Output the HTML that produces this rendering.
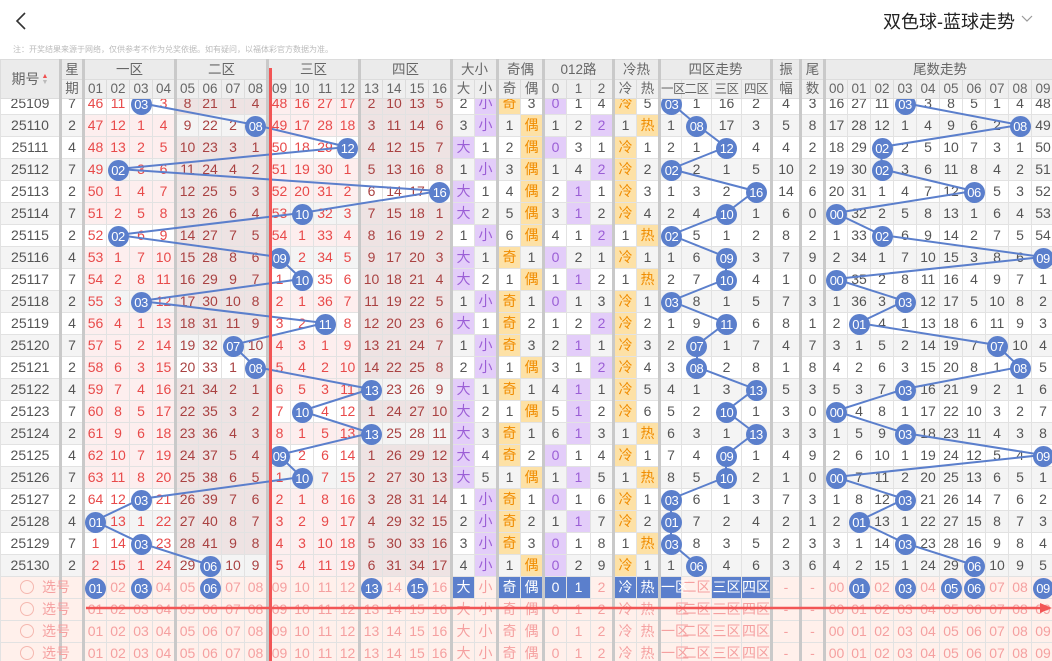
<!DOCTYPE html>
<html><head><meta charset="utf-8">
<style>
body{margin:0;width:1052px;height:661px;overflow:hidden;background:#fff;font-family:"Liberation Sans","Noto Sans CJK SC",sans-serif;position:relative}
.top{position:absolute;left:0;top:0;width:1052px;height:59px;background:#fff}
.title{position:absolute;left:883px;top:8px;font-size:18px;color:#222;white-space:nowrap}
.chev{position:absolute;left:1020px;top:14px}
.note{position:absolute;left:13px;top:44px;font-size:8px;color:#bbb;white-space:nowrap}
table{border-collapse:collapse;table-layout:fixed;width:1054px}
td{padding:0;text-align:center;border:1px solid #e2e2e2;font-size:14px;color:#555;white-space:nowrap;overflow:visible;line-height:19px}
.hd{position:absolute;left:0;top:59px;z-index:3;background:#ebebeb}
.hd td{background:#ebebeb;color:#666;font-size:13.5px;border-color:#dcdcdc;line-height:18px}
.hd td.sm{font-size:12.5px;letter-spacing:-0.5px}
.hd tr.r1 td{height:19px}
.hd tr.r2 td{height:18px;background:#efefef}
.hd td.L{border-left:3px solid #c9c9c9}
.bd{position:absolute;left:0;top:92px;width:1052px;height:569px;overflow:hidden}
.bd tr{height:22px}
.bd td{height:20px;background:#fff}
.bd tr:nth-child(even) td{background:#f4f4f4}
.bd td:nth-child(2),.bd td:nth-child(3),.bd td:nth-child(7),.bd td:nth-child(11),.bd td:nth-child(15),.bd td:nth-child(19),.bd td:nth-child(21),.bd td:nth-child(23),.bd td:nth-child(26),.bd td:nth-child(28),.bd td:nth-child(32),.bd td:nth-child(33),.bd td:nth-child(34){border-left:3px solid #c9c9c9}
.bd tr.g td{border-top:1px solid #c8c8c8}
.bd tr[class^=z] td:nth-child(n+3):nth-child(-n+6),.bd tr[class^=z] td:nth-child(n+11):nth-child(-n+14){color:#e84a4a}
.bd tr[class^=z] td:nth-child(n+7):nth-child(-n+10),.bd tr[class^=z] td:nth-child(n+15):nth-child(-n+18){color:#a94242}
.bd tr[class^=z]:not(.z1) td:nth-child(n+3):nth-child(-n+6){background:#fdeeee}
.bd tr[class^=z]:not(.z3) td:nth-child(n+11):nth-child(-n+14){background:#fdeeee}
.bd tr[class^=z]:not(.z2) td:nth-child(n+7):nth-child(-n+10){background:#eee3e3}
.bd tr[class^=z]:not(.z4) td:nth-child(n+15):nth-child(-n+18){background:#eee3e3}
.bd td.u{background:#e3cdf9 !important;color:#9b5ed6 !important}
.bd td.o{background:#fde1a6 !important;color:#f08c00 !important}
.bd tr.s td{background:#fff0eb !important;color:#f5a0a0 !important}
.bd tr.s td.bl{background:#5b7fcc !important;color:#fff !important}
.bd tr.s td.rad{text-align:left;padding-left:19px}
.rc{display:inline-block;width:12px;height:12px;border:1px solid #f5b8b0;border-radius:50%;vertical-align:middle;margin-right:8px;margin-top:-3px}
i{display:inline-block;width:21px;height:21px;border-radius:50%;background:#5b7fcc;color:#fff !important;font-style:normal;line-height:21px;font-size:13px;position:relative;z-index:2;vertical-align:middle;letter-spacing:-0.5px;margin-top:-2px;margin-bottom:-2px}
svg.ln{position:absolute;left:0;top:0;z-index:1;pointer-events:none}
.vr{position:absolute;left:269px;top:68px;width:3px;height:593px;background:#f25555;z-index:5}
svg.hr{position:absolute;left:0;top:600px;z-index:5}
</style></head><body>
<div class="top">
<svg style="position:absolute;left:12px;top:10px" width="20" height="22"><polyline points="13,3 5,11 13,19" fill="none" stroke="#333" stroke-width="1.6"/></svg>
<div class="title">双色球-蓝球走势</div>
<svg class="chev" width="14" height="10"><polyline points="2,2 7,7 12,2" fill="none" stroke="#999" stroke-width="1.2"/></svg>
<div class="note">注：开奖结果来源于网络，仅供参考不作为兑奖依据。如有疑问，以福体彩官方数据为准。</div>
</div>

<table class="hd">
<colgroup><col style="width:60px"><col style="width:23px"><col span="16" style="width:23px"><col span="5" style="width:23px"><col style="width:24px"><col span="3" style="width:23px"><col style="width:22px"><col span="3" style="width:30px"><col style="width:29px"><col style="width:24px"><col style="width:23px"><col span="10" style="width:23px"></colgroup>
<tr class="r1"><td rowspan="2" style="font-size:14px">期号<span style="display:inline-block;font-size:7px;line-height:6px;vertical-align:middle;margin-left:2px"><span style="color:#f05050">▲</span><br><span style="color:#bbb">▼</span></span></td><td class="L">星</td><td colspan="4" class="L">一区</td><td colspan="4" class="L">二区</td><td colspan="4" class="L">三区</td><td colspan="4" class="L">四区</td><td colspan="2" class="L">大小</td><td colspan="2" class="L">奇偶</td><td colspan="3" class="L">012路</td><td colspan="2" class="L">冷热</td><td colspan="4" class="L">四区走势</td><td class="L">振</td><td class="L">尾</td><td colspan="10" class="L">尾数走势</td></tr>
<tr class="r2"><td class="L">期</td><td class="L">01</td><td>02</td><td>03</td><td>04</td><td class="L">05</td><td>06</td><td>07</td><td>08</td><td class="L">09</td><td>10</td><td>11</td><td>12</td><td class="L">13</td><td>14</td><td>15</td><td>16</td><td class="L">大</td><td>小</td><td class="L">奇</td><td>偶</td><td class="L">0</td><td>1</td><td>2</td><td class="L">冷</td><td>热</td><td class="L sm">一区</td><td class="sm">二区</td><td class="sm">三区</td><td class="sm">四区</td><td class="L">幅</td><td class="L">数</td><td class="L">00</td><td>01</td><td>02</td><td>03</td><td>04</td><td>05</td><td>06</td><td>07</td><td>08</td><td>09</td></tr>
</table>

<div class="bd">
<table>
<colgroup><col style="width:60px"><col style="width:23px"><col span="16" style="width:23px"><col span="5" style="width:23px"><col style="width:24px"><col span="3" style="width:23px"><col style="width:22px"><col span="3" style="width:30px"><col style="width:29px"><col style="width:24px"><col style="width:23px"><col span="10" style="width:23px"></colgroup>
<tr class="z1"><td>25109<td>7<td>46<td>11<td><i>03</i><td>3<td>8<td>21<td>1<td>4<td>48<td>16<td>27<td>17<td>2<td>10<td>13<td>5<td>2<td class="u">小<td class="o">奇<td>3<td class="u">0<td>1<td>4<td class="o">冷<td>5<td><i>03</i><td>1<td>16<td>2<td>4<td>3<td>16<td>27<td>11<td><i>03</i><td>3<td>8<td>5<td>1<td>4<td>48</tr>
<tr class="z2"><td>25110<td>2<td>47<td>12<td>1<td>4<td>9<td>22<td>2<td><i>08</i><td>49<td>17<td>28<td>18<td>3<td>11<td>14<td>6<td>3<td class="u">小<td>1<td class="o">偶<td>1<td>2<td class="u">2<td>1<td class="o">热<td>1<td><i>08</i><td>17<td>3<td>5<td>8<td>17<td>28<td>12<td>1<td>4<td>9<td>6<td>2<td><i>08</i><td>49</tr>
<tr class="z3 g"><td>25111<td>4<td>48<td>13<td>2<td>5<td>10<td>23<td>3<td>1<td>50<td>18<td>29<td><i>12</i><td>4<td>12<td>15<td>7<td class="u">大<td>1<td>2<td class="o">偶<td class="u">0<td>3<td>1<td class="o">冷<td>1<td>2<td>1<td><i>12</i><td>4<td>4<td>2<td>18<td>29<td><i>02</i><td>2<td>5<td>10<td>7<td>3<td>1<td>50</tr>
<tr class="z1"><td>25112<td>7<td>49<td><i>02</i><td>3<td>6<td>11<td>24<td>4<td>2<td>51<td>19<td>30<td>1<td>5<td>13<td>16<td>8<td>1<td class="u">小<td>3<td class="o">偶<td>1<td>4<td class="u">2<td class="o">冷<td>2<td><i>02</i><td>2<td>1<td>5<td>10<td>2<td>19<td>30<td><i>02</i><td>3<td>6<td>11<td>8<td>4<td>2<td>51</tr>
<tr class="z4"><td>25113<td>2<td>50<td>1<td>4<td>7<td>12<td>25<td>5<td>3<td>52<td>20<td>31<td>2<td>6<td>14<td>17<td><i>16</i><td class="u">大<td>1<td>4<td class="o">偶<td>2<td class="u">1<td>1<td class="o">冷<td>3<td>1<td>3<td>2<td><i>16</i><td>14<td>6<td>20<td>31<td>1<td>4<td>7<td>12<td><i>06</i><td>5<td>3<td>52</tr>
<tr class="z3"><td>25114<td>7<td>51<td>2<td>5<td>8<td>13<td>26<td>6<td>4<td>53<td><i>10</i><td>32<td>3<td>7<td>15<td>18<td>1<td class="u">大<td>2<td>5<td class="o">偶<td>3<td class="u">1<td>2<td class="o">冷<td>4<td>2<td>4<td><i>10</i><td>1<td>6<td>0<td><i>00</i><td>32<td>2<td>5<td>8<td>13<td>1<td>6<td>4<td>53</tr>
<tr class="z1"><td>25115<td>2<td>52<td><i>02</i><td>6<td>9<td>14<td>27<td>7<td>5<td>54<td>1<td>33<td>4<td>8<td>16<td>19<td>2<td>1<td class="u">小<td>6<td class="o">偶<td>4<td>1<td class="u">2<td>1<td class="o">热<td><i>02</i><td>5<td>1<td>2<td>8<td>2<td>1<td>33<td><i>02</i><td>6<td>9<td>14<td>2<td>7<td>5<td>54</tr>
<tr class="z3 g"><td>25116<td>4<td>53<td>1<td>7<td>10<td>15<td>28<td>8<td>6<td><i>09</i><td>2<td>34<td>5<td>9<td>17<td>20<td>3<td class="u">大<td>1<td class="o">奇<td>1<td class="u">0<td>2<td>1<td class="o">冷<td>1<td>1<td>6<td><i>09</i><td>3<td>7<td>9<td>2<td>34<td>1<td>7<td>10<td>15<td>3<td>8<td>6<td><i>09</i></tr>
<tr class="z3"><td>25117<td>7<td>54<td>2<td>8<td>11<td>16<td>29<td>9<td>7<td>1<td><i>10</i><td>35<td>6<td>10<td>18<td>21<td>4<td class="u">大<td>2<td>1<td class="o">偶<td>1<td class="u">1<td>2<td>1<td class="o">热<td>2<td>7<td><i>10</i><td>4<td>1<td>0<td><i>00</i><td>35<td>2<td>8<td>11<td>16<td>4<td>9<td>7<td>1</tr>
<tr class="z1"><td>25118<td>2<td>55<td>3<td><i>03</i><td>12<td>17<td>30<td>10<td>8<td>2<td>1<td>36<td>7<td>11<td>19<td>22<td>5<td>1<td class="u">小<td class="o">奇<td>1<td class="u">0<td>1<td>3<td class="o">冷<td>1<td><i>03</i><td>8<td>1<td>5<td>7<td>3<td>1<td>36<td>3<td><i>03</i><td>12<td>17<td>5<td>10<td>8<td>2</tr>
<tr class="z3"><td>25119<td>4<td>56<td>4<td>1<td>13<td>18<td>31<td>11<td>9<td>3<td>2<td><i>11</i><td>8<td>12<td>20<td>23<td>6<td class="u">大<td>1<td class="o">奇<td>2<td>1<td>2<td class="u">2<td class="o">冷<td>2<td>1<td>9<td><i>11</i><td>6<td>8<td>1<td>2<td><i>01</i><td>4<td>1<td>13<td>18<td>6<td>11<td>9<td>3</tr>
<tr class="z2"><td>25120<td>7<td>57<td>5<td>2<td>14<td>19<td>32<td><i>07</i><td>10<td>4<td>3<td>1<td>9<td>13<td>21<td>24<td>7<td>1<td class="u">小<td class="o">奇<td>3<td>2<td class="u">1<td>1<td class="o">冷<td>3<td>2<td><i>07</i><td>1<td>7<td>4<td>7<td>3<td>1<td>5<td>2<td>14<td>19<td>7<td><i>07</i><td>10<td>4</tr>
<tr class="z2 g"><td>25121<td>2<td>58<td>6<td>3<td>15<td>20<td>33<td>1<td><i>08</i><td>5<td>4<td>2<td>10<td>14<td>22<td>25<td>8<td>2<td class="u">小<td>1<td class="o">偶<td>3<td>1<td class="u">2<td class="o">冷<td>4<td>3<td><i>08</i><td>2<td>8<td>1<td>8<td>4<td>2<td>6<td>3<td>15<td>20<td>8<td>1<td><i>08</i><td>5</tr>
<tr class="z4"><td>25122<td>4<td>59<td>7<td>4<td>16<td>21<td>34<td>2<td>1<td>6<td>5<td>3<td>11<td><i>13</i><td>23<td>26<td>9<td class="u">大<td>1<td class="o">奇<td>1<td>4<td class="u">1<td>1<td class="o">冷<td>5<td>4<td>1<td>3<td><i>13</i><td>5<td>3<td>5<td>3<td>7<td><i>03</i><td>16<td>21<td>9<td>2<td>1<td>6</tr>
<tr class="z3"><td>25123<td>7<td>60<td>8<td>5<td>17<td>22<td>35<td>3<td>2<td>7<td><i>10</i><td>4<td>12<td>1<td>24<td>27<td>10<td class="u">大<td>2<td>1<td class="o">偶<td>5<td class="u">1<td>2<td class="o">冷<td>6<td>5<td>2<td><i>10</i><td>1<td>3<td>0<td><i>00</i><td>4<td>8<td>1<td>17<td>22<td>10<td>3<td>2<td>7</tr>
<tr class="z4"><td>25124<td>2<td>61<td>9<td>6<td>18<td>23<td>36<td>4<td>3<td>8<td>1<td>5<td>13<td><i>13</i><td>25<td>28<td>11<td class="u">大<td>3<td class="o">奇<td>1<td>6<td class="u">1<td>3<td>1<td class="o">热<td>6<td>3<td>1<td><i>13</i><td>3<td>3<td>1<td>5<td>9<td><i>03</i><td>18<td>23<td>11<td>4<td>3<td>8</tr>
<tr class="z3"><td>25125<td>4<td>62<td>10<td>7<td>19<td>24<td>37<td>5<td>4<td><i>09</i><td>2<td>6<td>14<td>1<td>26<td>29<td>12<td class="u">大<td>4<td class="o">奇<td>2<td class="u">0<td>1<td>4<td class="o">冷<td>1<td>7<td>4<td><i>09</i><td>1<td>4<td>9<td>2<td>6<td>10<td>1<td>19<td>24<td>12<td>5<td>4<td><i>09</i></tr>
<tr class="z3 g"><td>25126<td>7<td>63<td>11<td>8<td>20<td>25<td>38<td>6<td>5<td>1<td><i>10</i><td>7<td>15<td>2<td>27<td>30<td>13<td class="u">大<td>5<td>1<td class="o">偶<td>1<td class="u">1<td>5<td>1<td class="o">热<td>8<td>5<td><i>10</i><td>2<td>1<td>0<td><i>00</i><td>7<td>11<td>2<td>20<td>25<td>13<td>6<td>5<td>1</tr>
<tr class="z1"><td>25127<td>2<td>64<td>12<td><i>03</i><td>21<td>26<td>39<td>7<td>6<td>2<td>1<td>8<td>16<td>3<td>28<td>31<td>14<td>1<td class="u">小<td class="o">奇<td>1<td class="u">0<td>1<td>6<td class="o">冷<td>1<td><i>03</i><td>6<td>1<td>3<td>7<td>3<td>1<td>8<td>12<td><i>03</i><td>21<td>26<td>14<td>7<td>6<td>2</tr>
<tr class="z1"><td>25128<td>4<td><i>01</i><td>13<td>1<td>22<td>27<td>40<td>8<td>7<td>3<td>2<td>9<td>17<td>4<td>29<td>32<td>15<td>2<td class="u">小<td class="o">奇<td>2<td>1<td class="u">1<td>7<td class="o">冷<td>2<td><i>01</i><td>7<td>2<td>4<td>2<td>1<td>2<td><i>01</i><td>13<td>1<td>22<td>27<td>15<td>8<td>7<td>3</tr>
<tr class="z1"><td>25129<td>7<td>1<td>14<td><i>03</i><td>23<td>28<td>41<td>9<td>8<td>4<td>3<td>10<td>18<td>5<td>30<td>33<td>16<td>3<td class="u">小<td class="o">奇<td>3<td class="u">0<td>1<td>8<td>1<td class="o">热<td><i>03</i><td>8<td>3<td>5<td>2<td>3<td>3<td>1<td>14<td><i>03</i><td>23<td>28<td>16<td>9<td>8<td>4</tr>
<tr class="z2"><td>25130<td>2<td>2<td>15<td>1<td>24<td>29<td><i>06</i><td>10<td>9<td>5<td>4<td>11<td>19<td>6<td>31<td>34<td>17<td>4<td class="u">小<td>1<td class="o">偶<td class="u">0<td>2<td>9<td class="o">冷<td>1<td>1<td><i>06</i><td>4<td>6<td>3<td>6<td>4<td>2<td>15<td>1<td>24<td>29<td><i>06</i><td>10<td>9<td>5</tr>
<tr class="s"><td class="rad"><span class="rc"></span>选号<td><td><i>01</i><td>02<td><i>03</i><td>04<td>05<td><i>06</i><td>07<td>08<td>09<td>10<td>11<td>12<td><i>13</i><td>14<td><i>15</i><td>16<td class="bl">大<td>小<td class="bl">奇<td class="bl">偶<td class="bl">0<td class="bl">1<td>2<td class="bl">冷<td class="bl">热<td class="bl">一区<td>二区<td class="bl">三区<td class="bl">四区<td>-<td>-<td>00<td><i>01</i><td>02<td><i>03</i><td>04<td><i>05</i><td><i>06</i><td>07<td>08<td><i>09</i></tr>
<tr class="s"><td class="rad"><span class="rc"></span>选号<td><td>01<td>02<td>03<td>04<td>05<td>06<td>07<td>08<td>09<td>10<td>11<td>12<td>13<td>14<td>15<td>16<td>大<td>小<td>奇<td>偶<td>0<td>1<td>2<td>冷<td>热<td>一区<td>二区<td>三区<td>四区<td>-<td>-<td>00<td>01<td>02<td>03<td>04<td>05<td>06<td>07<td>08<td>09</tr>
<tr class="s"><td class="rad"><span class="rc"></span>选号<td><td>01<td>02<td>03<td>04<td>05<td>06<td>07<td>08<td>09<td>10<td>11<td>12<td>13<td>14<td>15<td>16<td>大<td>小<td>奇<td>偶<td>0<td>1<td>2<td>冷<td>热<td>一区<td>二区<td>三区<td>四区<td>-<td>-<td>00<td>01<td>02<td>03<td>04<td>05<td>06<td>07<td>08<td>09</tr>
<tr class="s"><td class="rad"><span class="rc"></span>选号<td><td>01<td>02<td>03<td>04<td>05<td>06<td>07<td>08<td>09<td>10<td>11<td>12<td>13<td>14<td>15<td>16<td>大<td>小<td>奇<td>偶<td>0<td>1<td>2<td>冷<td>热<td>一区<td>二区<td>三区<td>四区<td>-<td>-<td>00<td>01<td>02<td>03<td>04<td>05<td>06<td>07<td>08<td>09</tr>
</table>
</div>

<svg class="ln" width="1052" height="661">
<g fill="none" stroke="#5b7fcc" stroke-width="2">
<polyline points="140.5,103 255.5,125 347.5,147 117.5,169 439.5,191 301.5,213 117.5,235 278.5,257 301.5,279 140.5,301 324.5,323 232.5,345 255.5,367 370.5,389 301.5,411 370.5,433 278.5,455 301.5,477 140.5,499 94.5,521 140.5,543 209.5,565"/>
<polyline points="671,103 697,125 726,147 671,169 755,191 726,213 671,235 726,257 726,279 671,301 726,323 697,345 697,367 755,389 726,411 755,433 726,455 726,477 671,499 671,521 671,543 697,565"/>
<polyline points="904.5,103 1019.5,125 881.5,147 881.5,169 973.5,191 835.5,213 881.5,235 1042.5,257 835.5,279 904.5,301 858.5,323 996.5,345 1019.5,367 904.5,389 835.5,411 904.5,433 1042.5,455 835.5,477 904.5,499 858.5,521 904.5,543 973.5,565"/>
</g>
</svg>

<div class="vr"></div>
<svg class="hr" width="1052" height="16"><line x1="86" y1="8" x2="1044" y2="8" stroke="#f25555" stroke-width="2.5"/><polygon points="1052,8 1040,3 1040,13" fill="#f25555"/></svg>
</body></html>
